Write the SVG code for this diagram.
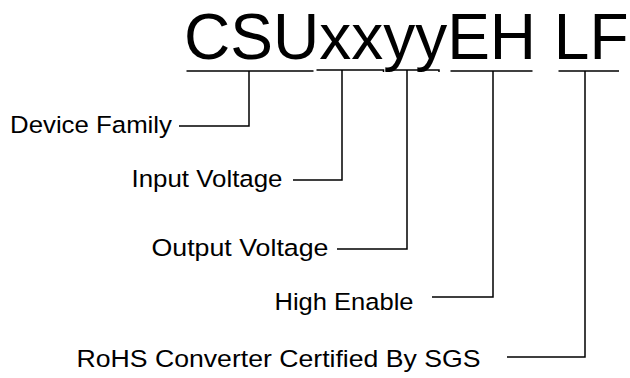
<svg xmlns="http://www.w3.org/2000/svg" width="630" height="378" viewBox="0 0 630 378">
<style>
.t{font-family:"Liberation Sans",Arial,sans-serif;fill:#000}
.lbl{font-size:24.5px}
.title{font-size:64px}
.ln{fill:none;stroke:#000;stroke-width:1.5}
</style>
<rect width="630" height="378" fill="#fff"/>
<g id="title">
<text class="t title" x="184" y="58.5">CSUxxyyEH LF</text>
</g>
<g id="underlines" class="ln">
<path d="M186.5,71H313.5"/>
<path d="M316.5,70H383.5v2"/>
<path d="M386.5,72v-2H439v2"/>
<path d="M450.5,71H532.5"/>
<path d="M558.5,71H619"/>
</g>
<g id="connectors" class="ln">
<path d="M179,126H249V71"/>
<path d="M293,180H342V70"/>
<path d="M337,249H407V70"/>
<path d="M432,297H493V71"/>
<path d="M507,357H585V71"/>
</g>
<g id="device-family"><text class="t lbl" x="10" y="133" textLength="162" lengthAdjust="spacingAndGlyphs">Device Family</text></g>
<g id="input-voltage"><text class="t lbl" x="131.5" y="187" textLength="151" lengthAdjust="spacingAndGlyphs">Input Voltage</text></g>
<g id="output-voltage"><text class="t lbl" x="151.5" y="256" textLength="177" lengthAdjust="spacingAndGlyphs">Output Voltage</text></g>
<g id="high-enable"><text class="t lbl" x="274.5" y="310" textLength="139" lengthAdjust="spacingAndGlyphs">High Enable</text></g>
<g id="rohs"><text class="t lbl" x="76.5" y="367" textLength="404" lengthAdjust="spacingAndGlyphs">RoHS Converter Certified By SGS</text></g>
</svg>
